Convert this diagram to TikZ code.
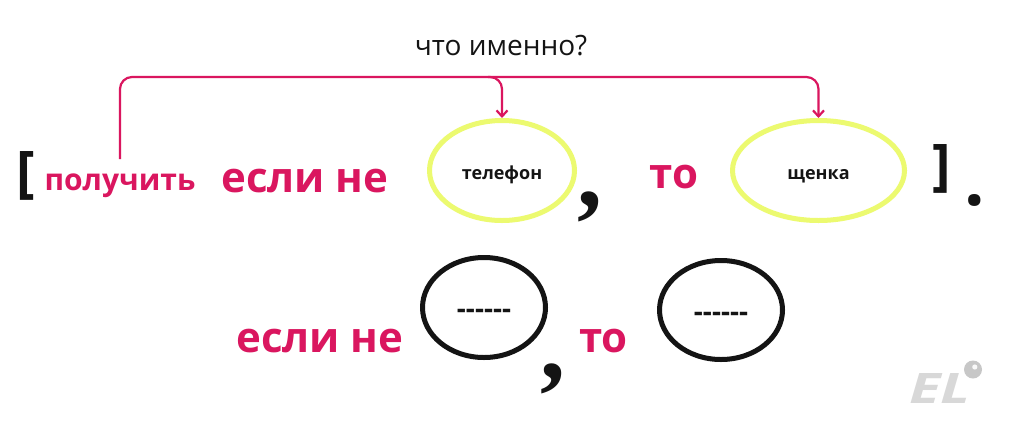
\documentclass[tikz,border=0pt]{standalone}
\usepackage{fontspec}
\setmainfont{Open Sans}
\newfontfamily\punctfont{Liberation Serif}
\usetikzlibrary{shapes.geometric,arrows.meta,calc}
\definecolor{pinkc}{RGB}{218,22,95}
\definecolor{yel}{RGB}{236,250,112}
\definecolor{logogray}{RGB}{216,216,216}
\definecolor{inkc}{RGB}{20,20,20}
\begin{document}
\begin{tikzpicture}[x=1pt,y=-1pt,
  qtxt/.style={text=inkc,font=\fontsize{28}{28}\selectfont,inner sep=0,anchor=base},
  psmall/.style={text=pinkc,font=\bfseries\fontsize{30}{30}\selectfont,inner sep=0,anchor=base},
  pbig/.style={text=pinkc,font=\bfseries\fontsize{42}{42}\selectfont,inner sep=0,anchor=base},
  brk/.style={text=inkc,font=\bfseries\fontsize{56}{56}\selectfont,inner sep=0},
  comma/.style={text=inkc,font=\punctfont\bfseries\fontsize{100}{100}\selectfont,inner sep=0},
  bigdot/.style={text=inkc,font=\bfseries\fontsize{72}{72}\selectfont,inner sep=0},
  ellbase/.style={ellipse,line width=5pt,inner sep=0,text=inkc,align=center},
  yell/.style={ellbase,draw=yel,font=\bfseries\fontsize{18}{18}\selectfont,
    text height=20pt,text depth=1.2pt},
  bell/.style={ellbase,draw=inkc,font=\bfseries\fontsize{28}{28}\selectfont,
    text height=24pt,text depth=1.2pt},
  link/.style={draw=pinkc,line width=2.2pt,rounded corners=12pt,
    -{Straight Barb[length=6pt,width=11pt]}},
  logo/.style={text=logogray,font=\bfseries\itshape\fontsize{42}{42}\selectfont,inner sep=0,anchor=base west}
]
\useasboundingbox[fill=white] (0,0) rectangle (1024,421);

% question
\node[qtxt] (q) at (501,55) {что именно?};

% top row
\node[brk] (lb) at (26,175.5) {[};
\node[psmall] (pol) at (120,190) {получить};
\node[pbig] (esli1) at (305,192) {если не};
\node[yell,minimum width=145,minimum height=100] (e1) at (502,170.5) {телефон};
\node[comma] (c1) at (590,206.5) {,};
\node[pbig] (to1) at (674,188) {то};
\node[yell,minimum width=172,minimum height=100] (e2) at (818.5,170.5) {щенка};
\node[brk] (rb) at (941.5,168.5) {]};
\node[bigdot] (dot) at (975,200) {.};

% connectors
\coordinate (top) at (0,77);
\coordinate (src) at ($(pol.north)+(0,-14)$);
\draw[link] (src) |- (top -| e2.north) -- (e2.north);
\draw[link] ($(e1.north |- top)+(-14,0)$) -| (e1.north);

% bottom row
\node[pbig] (esli2) at (320,352) {если не};
\node[bell,minimum width=123,minimum height=100] (e3) at (484,307.5) {-{}-{}-{}-{}-{}-};
\node[comma] (c2) at (552.5,378.5) {,};
\node[pbig] (to2) at (603.5,352) {то};
\node[bell,minimum width=123,minimum height=99] (e4) at (721,310) {-{}-{}-{}-{}-{}-};

% logo
\node[logo,xscale=1.38,transform shape] (el) at (909,403) {EL};
\node[circle,fill=logogray!92!black,minimum size=18,inner sep=0] (eldot) at (973,369.5) {};
\fill[white!85!logogray] ($(eldot.center)+(1.8,-2.5)$) circle (2.6);
\end{tikzpicture}
\end{document}
